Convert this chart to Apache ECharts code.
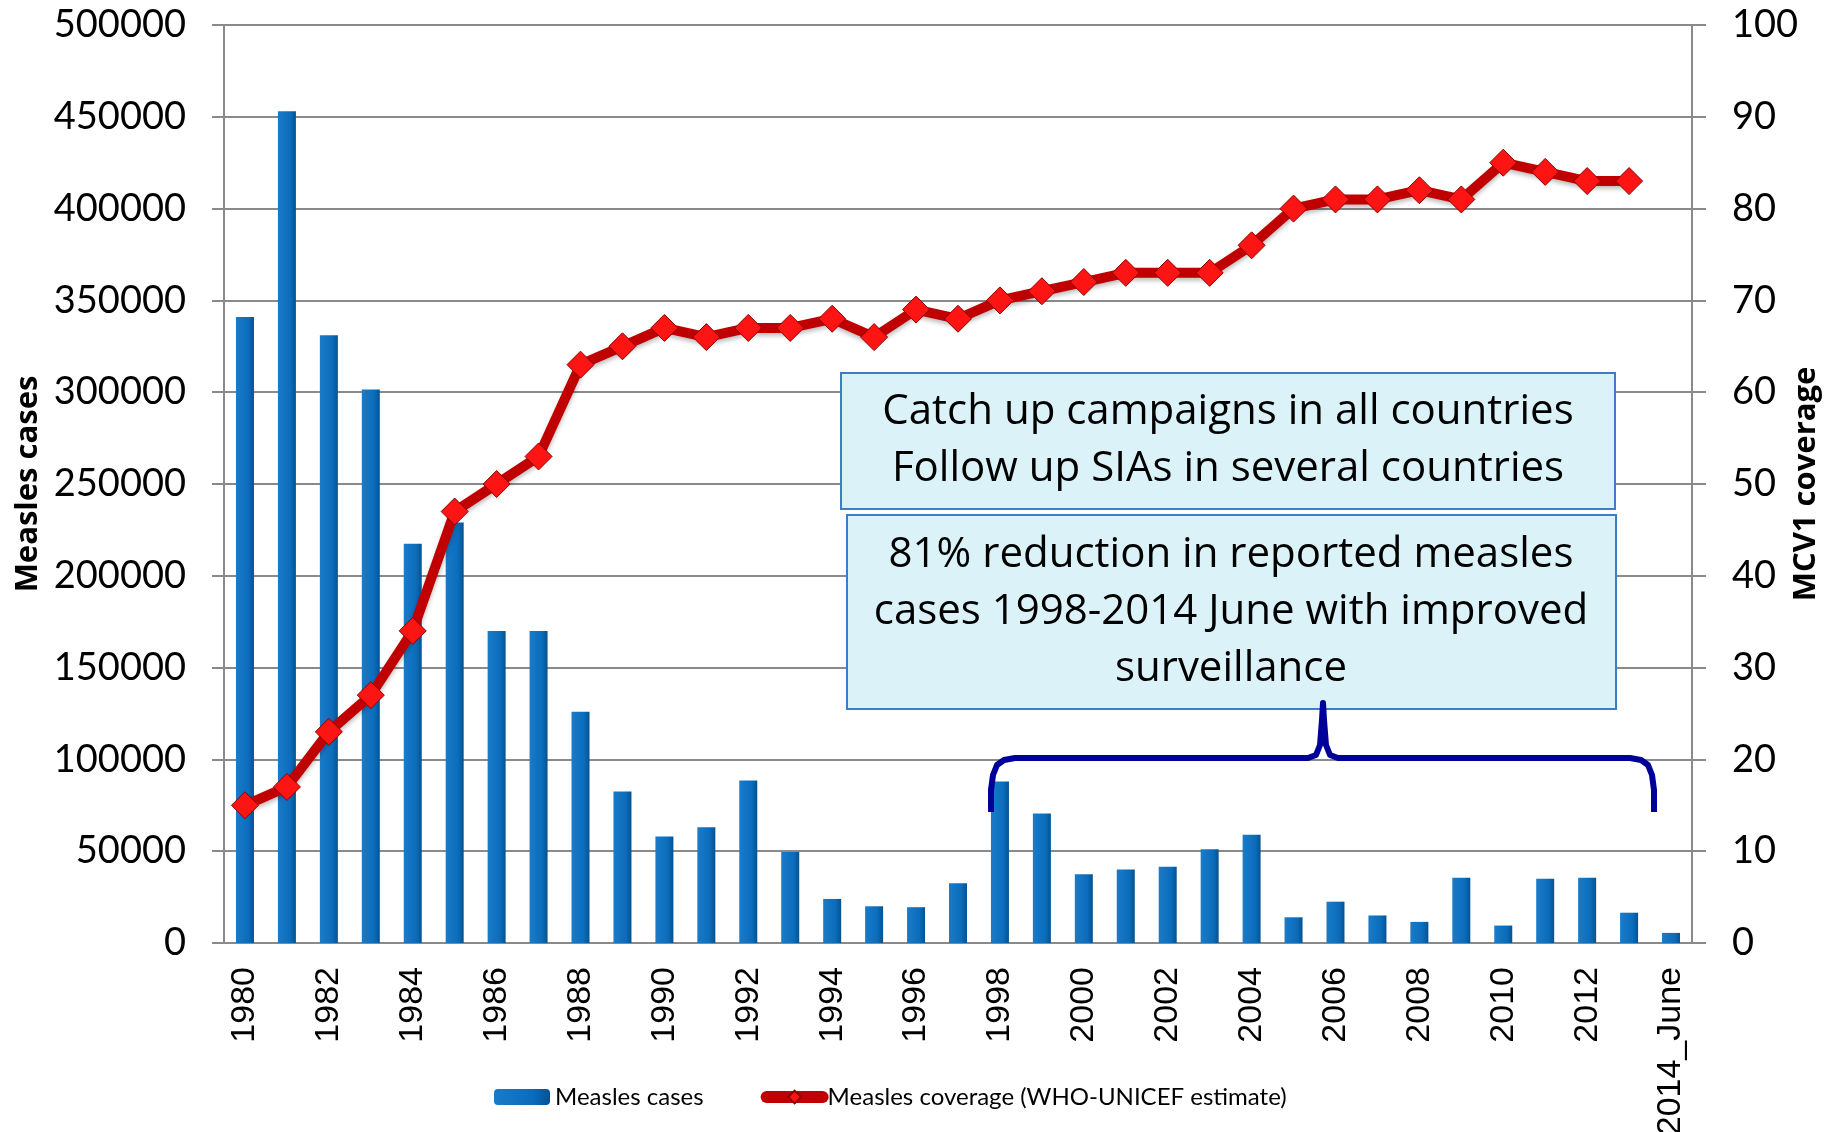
<!DOCTYPE html>
<html>
<head>
<meta charset="utf-8">
<script src="https://cdn.jsdelivr.net/npm/echarts@6/dist/echarts.min.js"></script>
<style>
  html, body { margin: 0; padding: 0; background: #fff; }
  #measlesChart { width: 1835px; height: 1132px; }
</style>
</head>
<body>
<div id="measlesChart"></div>
<script>
// 年份（最后一个是 2014 年 6 月）
var years = ["1980", "1981", "1982", "1983", "1984", "1985", "1986", "1987", "1988", "1989",
  "1990", "1991", "1992", "1993", "1994", "1995", "1996", "1997", "1998", "1999",
  "2000", "2001", "2002", "2003", "2004", "2005", "2006", "2007", "2008", "2009",
  "2010", "2011", "2012", "2013", "2014_June"];

// 麻疹病例数
var measlesCases = [341000, 453000, 331000, 301500, 217500, 229000, 170000, 170000, 126000, 82500,
  58000, 63000, 88500, 49500, 24000, 20000, 19500, 32500, 88000, 70500,
  37500, 40000, 41500, 51000, 59000, 14000, 22500, 15000, 11500, 35500,
  9500, 35000, 35500, 16500, 5500];

// MCV1 覆盖率 (WHO-UNICEF)，2014_June 无数据
var coverage = [15, 17, 23, 27, 34, 47, 50, 53, 63, 65,
  67, 66, 67, 67, 68, 66, 69, 68, 70, 71,
  72, 73, 73, 73, 76, 80, 81, 81, 82, 81,
  85, 84, 83, 83, null];

var boxText1 = "Catch up campaigns in all countries\nFollow up SIAs in several countries";
var boxText2 = "81% reduction in reported measles\ncases 1998-2014 June with improved\nsurveillance";

var myChart = echarts.init(document.getElementById("measlesChart"));
var gridColor = "#8a8a8a";

var option = {
  animation: false,
  grid: {
    left: 224,
    right: 143,
    top: 25,
    bottom: 189,
    outerBoundsMode: "none"
  },
  legend: {
    left: 489,
    top: 1080,
    itemWidth: 56,
    itemHeight: 16,
    itemGap: 57,
    textStyle: {
      fontFamily: "Lato",
      fontSize: 24,
      color: "#000"
    },
    data: [
      { name: "Measles cases" },
      {
        name: "Measles coverage (WHO-UNICEF estimate)",
        lineStyle: { width: 12, cap: "round", color: "#c00000" }
      }
    ]
  },
  xAxis: {
    type: "category",
    data: years,
    axisLine: { lineStyle: { color: gridColor, width: 2 } },
    axisTick: { interval: 0, length: 12, lineStyle: { color: gridColor, width: 2 } },
    axisLabel: {
      interval: 1,
      rotate: 90,
      margin: 24,
      fontFamily: "Liberation Sans",
      fontSize: 34,
      color: "#000"
    }
  },
  yAxis: [
    {
      type: "value",
      min: 0,
      max: 500000,
      interval: 50000,
      name: "Measles cases",
      nameLocation: "middle",
      nameRotate: 90,
      nameGap: 180,
      nameMoveOverlap: false,
      nameTextStyle: {
        fontFamily: "Open Sans",
        fontWeight: "bold",
        fontSize: 31,
        color: "#000"
      },
      axisLine: { show: true, lineStyle: { color: gridColor, width: 2 } },
      axisTick: { show: true, length: 12, lineStyle: { color: gridColor, width: 2 } },
      splitLine: { lineStyle: { color: gridColor, width: 2 } },
      axisLabel: {
        margin: 38,
        fontFamily: "Lato",
        fontSize: 38,
        color: "#000",
        formatter: function(v) { return String(v); }
      }
    },
    {
      type: "value",
      min: 0,
      max: 100,
      interval: 10,
      name: "MCV1 coverage",
      nameLocation: "middle",
      nameRotate: 90,
      nameGap: 99,
      nameMoveOverlap: false,
      nameTextStyle: {
        fontFamily: "Open Sans",
        fontWeight: "bold",
        fontSize: 31,
        color: "#000"
      },
      axisLine: { show: true, lineStyle: { color: gridColor, width: 2 } },
      axisTick: { show: true, length: 14, lineStyle: { color: gridColor, width: 2 } },
      splitLine: { show: false },
      axisLabel: {
        margin: 40,
        fontFamily: "Lato",
        fontSize: 38,
        color: "#000"
      }
    }
  ],
  series: [
    {
      name: "Measles cases",
      type: "bar",
      yAxisIndex: 0,
      barWidth: 18,
      data: measlesCases,
      itemStyle: {
        color: {
          type: "linear", x: 0, y: 0, x2: 1, y2: 0,
          colorStops: [
            { offset: 0, color: "#1a7bc8" },
            { offset: 0.7, color: "#0a6cbb" },
            { offset: 1, color: "#06528f" }
          ]
        }
      }
    },
    {
      name: "Measles coverage (WHO-UNICEF estimate)",
      type: "line",
      yAxisIndex: 1,
      data: coverage,
      symbol: "diamond",
      symbolSize: 27,
      lineStyle: {
        color: "#c00000",
        width: 10,
        shadowColor: "rgba(0,0,0,0.25)",
        shadowBlur: 4,
        shadowOffsetY: 3
      },
      itemStyle: {
        color: "#ff1414",
        borderColor: "#8b0000",
        borderWidth: 1
      },
      z: 3
    }
  ],
  graphic: [
    {
      type: "rect",
      shape: { x: 841, y: 373, width: 774, height: 136 },
      style: { fill: "#dbf3f8", stroke: "#3d7cc9", lineWidth: 2 },
      z: 10
    },
    {
      type: "text",
      x: 1228,
      y: 441,
      style: {
        text: boxText1,
        fontFamily: "Open Sans",
        fontSize: 42,
        lineHeight: 57,
        fill: "#000",
        align: "center",
        verticalAlign: "middle"
      },
      z: 11
    },
    {
      type: "rect",
      shape: { x: 847, y: 515, width: 769, height: 194 },
      style: { fill: "#dbf3f8", stroke: "#3d7cc9", lineWidth: 2 },
      z: 10
    },
    {
      type: "text",
      x: 1231,
      y: 612,
      style: {
        text: boxText2,
        fontFamily: "Open Sans",
        fontSize: 42,
        lineHeight: 57,
        fill: "#000",
        align: "center",
        verticalAlign: "middle"
      },
      z: 11
    },
    {
      // 花括号 1998 - 2014_June
      type: "polyline",
      shape: {
        points: [[991, 812], [991, 790], [993, 775], [997, 765], [1004, 760], [1015, 758], [1308, 758],
          [1316, 755], [1320, 745], [1322, 720], [1323, 703], [1324, 720], [1326, 745],
          [1330, 755], [1338, 758], [1630, 758], [1641, 760], [1648, 765], [1652, 775], [1654, 790], [1654, 812]]
      },
      style: { fill: null, stroke: "#000099", lineWidth: 6, lineJoin: "round" },
      z: 10
    }
  ]
};
myChart.setOption(option);
window.onresize = function() {
  myChart.resize();
};
</script>
</body>
</html>
